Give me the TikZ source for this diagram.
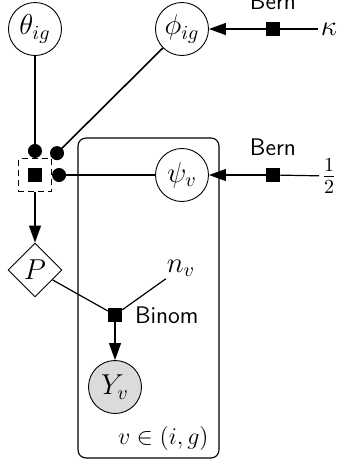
\documentclass[tikz,border=0pt]{standalone}
\usetikzlibrary{shapes.geometric,arrows.meta}
\begin{document}
\begin{tikzpicture}[x=0.5pt,y=-0.5pt,
  mathfont/.style={font=\fontsize{14}{16}\selectfont},
  latentnode/.style={circle,draw,line width=0.45pt,minimum size=26.5pt,inner sep=0pt,mathfont},
  obsnode/.style={latentnode,fill=gray!28},
  detnode/.style={diamond,draw,line width=0.45pt,minimum size=27pt,inner sep=0pt,mathfont},
  factornode/.style={rectangle,fill=black,minimum size=6.8pt,inner sep=0pt},
  constnode/.style={inner sep=1pt,mathfont},
  lab/.style={font=\sffamily\fontsize{12}{14}\selectfont},
  tri/.style={-{Triangle[length=8.5pt,width=6pt]},line width=0.6pt},
  dotedge/.style={-{Circle[length=7pt]},line width=0.8pt},
  plain/.style={line width=0.6pt}]
\useasboundingbox (0,0) rectangle (337,462);
% plate
\draw[rounded corners=4pt,line width=0.55pt] (78,138) rectangle (219,458);
\node[inner sep=1pt,font=\fontsize{11.5}{13}\selectfont,anchor=base east] (plab) at (211,444) {$v\in(i,g)$};
% nodes
\node[latentnode] (theta) at (35,29) {$\theta_{ig}$};
\node[latentnode] (phi) at (182,29) {$\phi_{ig}$};
\node[constnode] (kappa) at (329,29) {$\kappa$};
\node[factornode] (fk) at (273,29) {};
\node[lab,above=2.5pt] (bern1) at (fk.north) {Bern};
\node[latentnode] (psi) at (182,175) {$\psi_v$};
\node[constnode] (half) at (329,176) {$\frac{1}{2}$};
\node[factornode] (fh) at (273,175) {};
\node[lab,above=2.5pt] (bern2) at (fh.north) {Bern};
\node[rectangle,draw,dash pattern=on 3pt off 2pt,line width=0.55pt,minimum size=16.5pt,inner sep=0pt] (box) at (35,175) {};
\node[factornode] (fbox) at (35,175) {};
\node[detnode] (P) at (35,270) {$P$};
\node[constnode] (nv) at (181,268) {$n_v$};
\node[factornode] (fb) at (115,315) {};
\node[lab,anchor=west] (binom) at (128,315) {Binom};
\node[obsnode] (Y) at (115,387) {$Y_v$};
% edges
\draw[plain] (kappa) -- (fk);
\draw[tri] (fk) -- (phi);
\draw[plain] (half) -- (fh);
\draw[tri] (fh) -- (psi);
\draw[dotedge] (theta) -- (box);
\draw[dotedge] (phi) -- (box);
\draw[dotedge] (psi) -- (box);
\draw[tri] (box) -- (P);
\draw[plain] (P) -- (fb);
\draw[plain] (nv) -- (fb);
\draw[tri] (fb) -- (Y);
\end{tikzpicture}
\end{document}
